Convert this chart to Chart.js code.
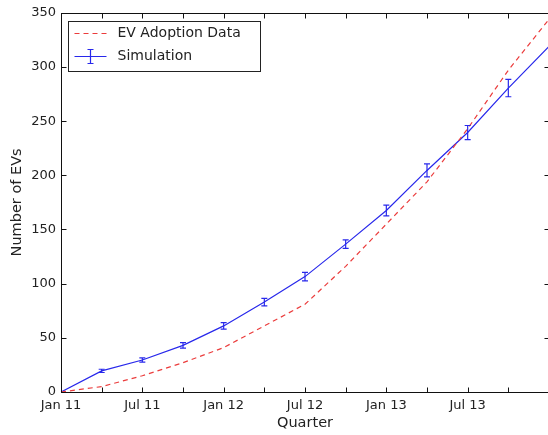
<!DOCTYPE html>
<html>
<head>
<meta charset="utf-8">
<title>EV adoption vs simulation</title>
<script src="https://cdn.jsdelivr.net/npm/chart.js@4.4.1/dist/chart.umd.min.js"></script>
<style>
    html, body { margin: 0; padding: 0; background: #fff; overflow: hidden; }
    #wrap { width: 548px; height: 435px; overflow: hidden; }
</style>
</head>
<body>
<div id="wrap"><canvas id="evChart" width="549" height="435"></canvas></div>
<script>
// quarters from Jan 11 to Jan 14
const quarters = ['Jan 11', 'Apr 11', 'Jul 11', 'Oct 11', 'Jan 12', 'Apr 12', 'Jul 12',
                  'Oct 12', 'Jan 13', 'Apr 13', 'Jul 13', 'Oct 13', 'Jan 14'];
const tickLabels = ['Jan 11', '', 'Jul 11', '', 'Jan 12', '', 'Jul 12', '', 'Jan 13', '', 'Jul 13', '', ''];

const adoptionData = [0, 5, 15, 27, 41, 61, 81, 116, 155, 194, 243, 297, 344];
const simulation   = [0, 19.5, 29.5, 43, 61, 83, 106.5, 136.5, 167.5, 204.5, 239.5, 280.5, 319];
const simError     = [0, 1.5, 2, 2.5, 3, 3.5, 4, 4, 5, 6, 6.5, 8, 0];

const yTicks = [0, 50, 100, 150, 200, 250, 300, 350];

const BLUE = 'rgb(40, 40, 235)';
const RED = 'rgb(235, 60, 60)';
const FONT = 'DejaVu Sans';

// vertical error bars on the simulation series
const errorBars = {
    id: 'errorBars',
    afterDatasetsDraw(chart) {
        const ctx = chart.ctx;
        const xs = chart.scales.x, ys = chart.scales.y;
        const area = chart.chartArea;
        ctx.save();
        ctx.beginPath();
        ctx.rect(area.left, area.top, area.right - area.left, area.bottom - area.top);
        ctx.clip();
        ctx.strokeStyle = BLUE;
        ctx.lineWidth = 1.2;
        simulation.forEach((v, i) => {
            const e = simError[i];
            if (!e) return;
            const x = xs.getPixelForValue(i);
            const y1 = ys.getPixelForValue(v - e);
            const y2 = ys.getPixelForValue(v + e);
            ctx.beginPath();
            ctx.moveTo(x, y1); ctx.lineTo(x, y2);
            ctx.moveTo(x - 3, y1); ctx.lineTo(x + 3, y1);
            ctx.moveTo(x - 3, y2); ctx.lineTo(x + 3, y2);
            ctx.stroke();
        });
        ctx.restore();
    }
};

// box round the plot with inward ticks, and the legend inside it
const frame = {
    id: 'frame',
    afterDraw(chart) {
        const ctx = chart.ctx;
        const a = chart.chartArea;
        const xs = chart.scales.x, ys = chart.scales.y;
        ctx.save();
        ctx.strokeStyle = '#111';
        ctx.lineWidth = 1;
        const L = Math.round(a.left) + 0.5, R = Math.round(a.right) + 0.5;
        const T = Math.round(a.top) + 0.5, B = Math.round(a.bottom) + 0.5;
        ctx.strokeRect(L, T, R - L, B - T);

        ctx.beginPath();
        quarters.forEach((q, i) => {
            const x = Math.round(xs.getPixelForValue(i)) + 0.5;
            ctx.moveTo(x, B); ctx.lineTo(x, B - 5);
            ctx.moveTo(x, T); ctx.lineTo(x, T + 5);
        });
        yTicks.forEach(v => {
            const y = Math.round(ys.getPixelForValue(v)) + 0.5;
            ctx.moveTo(L, y); ctx.lineTo(L + 5, y);
            ctx.moveTo(R, y); ctx.lineTo(R - 5, y);
        });
        ctx.stroke();

        // legend
        const bx = L + 7, by = T + 8, bw = 192, bh = 50;
        ctx.fillStyle = '#fff';
        ctx.fillRect(bx, by, bw, bh);
        ctx.strokeStyle = '#222';
        ctx.strokeRect(bx, by, bw, bh);

        ctx.font = '14px "' + FONT + '"';
        ctx.textBaseline = 'middle';
        ctx.fillStyle = '#222';
        const ds = chart.data.datasets;

        let ly = by + 12;
        ctx.strokeStyle = RED;
        ctx.lineWidth = 1.2;
        ctx.setLineDash([5, 4]);
        ctx.beginPath();
        ctx.moveTo(bx + 6, ly); ctx.lineTo(bx + 38, ly);
        ctx.stroke();
        ctx.setLineDash([]);
        ctx.fillText(ds[0].label, bx + 49, ly);

        ly = by + 35;
        ctx.strokeStyle = BLUE;
        ctx.beginPath();
        ctx.moveTo(bx + 6, ly); ctx.lineTo(bx + 38, ly);
        ctx.moveTo(bx + 22, ly - 7); ctx.lineTo(bx + 22, ly + 7);
        ctx.moveTo(bx + 19, ly - 7); ctx.lineTo(bx + 25, ly - 7);
        ctx.moveTo(bx + 19, ly + 7); ctx.lineTo(bx + 25, ly + 7);
        ctx.stroke();
        ctx.fillText(ds[1].label, bx + 49, ly);
        ctx.restore();
    }
};

new Chart(document.getElementById('evChart'), {
    type: 'line',
    data: {
        labels: quarters,
        datasets: [{
            label: 'EV Adoption Data',
            data: adoptionData,
            borderColor: RED,
            borderWidth: 1.2,
            borderDash: [5, 4],
            pointRadius: 0,
            tension: 0,
            fill: false
        }, {
            label: 'Simulation',
            data: simulation,
            borderColor: BLUE,
            borderWidth: 1.2,
            pointRadius: 0,
            tension: 0,
            fill: false
        }]
    },
    options: {
        responsive: false,
        animation: false,
        layout: { padding: { top: 9, right: 0, left: 0, bottom: 0 } },
        plugins: {
            legend: { display: false },
            tooltip: { enabled: false }
        },
        scales: {
            x: {
                offset: false,
                grid: { display: false, drawTicks: false },
                border: { display: false },
                ticks: {
                    autoSkip: false,
                    maxRotation: 0,
                    padding: 6,
                    color: '#222',
                    font: { family: FONT, size: 13 },
                    callback: (v, i) => tickLabels[i]
                },
                title: {
                    display: true,
                    text: 'Quarter',
                    color: '#222',
                    font: { family: FONT, size: 14.5 },
                    padding: { top: 0, bottom: 3 }
                },
                afterFit: s => { s.height = 43; s.paddingRight = 0; }
            },
            y: {
                min: 0,
                max: 350,
                grid: { display: false, drawTicks: false },
                border: { display: false },
                ticks: {
                    stepSize: 50,
                    padding: 5,
                    color: '#222',
                    font: { family: FONT, size: 13 }
                },
                title: {
                    display: true,
                    text: 'Number of EVs',
                    color: '#222',
                    font: { family: FONT, size: 14.5 },
                    padding: { top: 9, bottom: 0 }
                },
                afterFit: s => { s.width = 61; }
            }
        }
    },
    plugins: [errorBars, frame]
});
</script>
</body>
</html>
